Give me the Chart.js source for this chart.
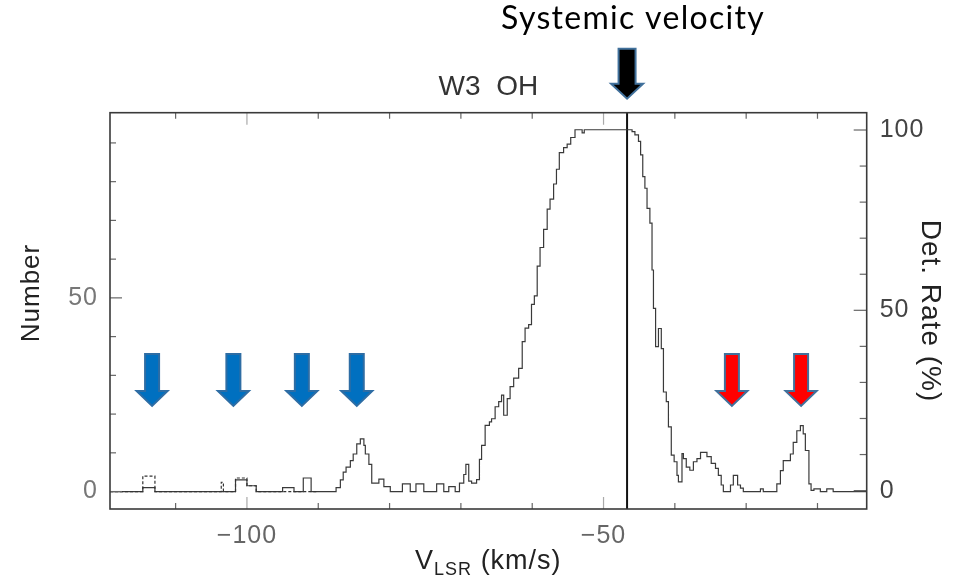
<!DOCTYPE html>
<html>
<head>
<meta charset="utf-8">
<script src="https://cdn.jsdelivr.net/npm/chart.js@4.4.1/dist/chart.umd.min.js"></script>
<style>
  html, body { margin: 0; padding: 0; background: #fff; }
  #wrap { width: 953px; height: 579px; }
</style>
</head>
<body>
<div id="wrap"><canvas id="c" width="953" height="579"></canvas></div>
<script>
// step histogram: left edge of each bin (km/s) and its height
const velEdges = [
  -119.2, -114.6, -112.9, -101.6, -100.0, -98.7, -95.0, -93.4, -92.1, -91.0,
  -87.5, -86.9, -86.5, -86.1, -85.5, -85.1, -84.6, -84.1, -83.6, -83.4,
  -82.9, -82.5, -81.5, -80.8, -79.9, -78.2, -77.1, -76.3, -75.2, -73.4,
  -72.4, -71.7, -70.8, -70.2, -69.6, -69.3, -68.9, -68.5, -67.8, -67.4,
  -67.1, -66.6, -66.0, -65.7, -65.2, -64.7, -64.3, -64.0, -63.5, -63.1,
  -62.6, -61.9, -61.4, -61.0, -60.5, -60.1, -59.7, -59.3, -58.9, -58.4,
  -57.9, -57.5, -57.0, -56.6, -56.2, -55.6, -55.1, -54.6, -54.0, -53.0,
  -52.7, -46.0, -45.6, -45.1, -44.8, -44.5, -44.2, -43.9, -43.5, -43.2,
  -43.0, -42.7, -42.3, -41.9, -41.6, -41.2, -40.9, -40.5, -40.1, -39.7,
  -39.5, -39.0, -38.8, -38.4, -37.9, -37.4, -36.9, -36.4, -35.5, -34.9,
  -34.3, -33.9, -33.5, -33.2, -32.2, -31.8, -31.2, -30.8, -30.4, -28.0,
  -27.6, -25.7, -25.2, -24.8, -23.8, -23.4, -22.9, -22.4, -22.0, -21.7,
  -21.2, -20.9, -20.5, -19.6, -18.7, -17.8, -13.1
];
const counts = [
  0, 1, 0, 3, 1.5, 0, 1, 0, 3.5, 0,
  1, 3, 5, 6.3, 8, 9.7, 12.3, 13.6, 11.9, 9.7,
  7, 2.2, 3.2, 1.3, 0, 2, 0, 2, 0, 2,
  0, 1.3, 0, 2.2, 4.4, 7.0, 2.7, 2.2, 3.1, 8.3,
  11.9, 17.1, 18.0, 18.8, 21.9, 23.2, 24.9, 19.7, 24.0, 27.1,
  29.3, 31.8, 38.7, 42.2, 43.1, 48.3, 50.5, 58.2, 63.0, 67.7,
  72.9, 75.5, 79.4, 83.2, 87.5, 88.8, 89.7, 91.4, 93.4, 92.6,
  93.4, 92.9, 92.1, 90.4, 86.9, 81.3, 78.3, 73.1, 69.3, 57.2,
  47.3, 37.4, 42.1, 36.9, 25.7, 23.2, 16.7, 9.4, 7.7, 4.2,
  2.5, 9.8, 8.5, 6.3, 5.5, 7.7, 8.5, 10.1, 9.0, 7.3,
  6.0, 4.2, 1.7, 0, 1.7, 4.2, 1.7, 0.9, 0, 0.7,
  0, 2, 5.4, 8, 9.7, 12.7, 15.7, 17, 14.9, 10.6,
  2, 0.3, 0.7, 0, 0.7, 0, 0
];

// dashed overlay on the faint high-velocity bumps
const dashEdges = [-119.2, -114.6, -112.9, -103.6, -103.3, -101.6, -100.0, -98.7, -90.0];
const dashCounts = [0, 4, 0, 2.4, 0, 3.5, 1.5, 0, 0];

const systemicVel = -46.7;
const blueArrowVel = [-113.3, -101.9, -92.3, -84.6];
const redArrowVel = [-32.0, -22.3];

const xRange = [-119.2, -13.1];
const numberRange = [-4.5, 97.8];
const rateRange = [-5.1, 104.8];

const axisFont = 'Liberation Sans, Arial, sans-serif';

function toPoints(xs, ys) {
  return xs.map((v, i) => ({ x: v, y: ys[i] }));
}

function drawArrow(ctx, cx, top, tip, shaftW, headW, headH, fill, stroke) {
  const neck = tip - headH;
  ctx.beginPath();
  ctx.moveTo(cx - shaftW / 2, top);
  ctx.lineTo(cx + shaftW / 2, top);
  ctx.lineTo(cx + shaftW / 2, neck);
  ctx.lineTo(cx + headW / 2, neck);
  ctx.lineTo(cx, tip);
  ctx.lineTo(cx - headW / 2, neck);
  ctx.lineTo(cx - shaftW / 2, neck);
  ctx.closePath();
  ctx.fillStyle = fill;
  ctx.fill();
  ctx.lineWidth = 2;
  ctx.strokeStyle = stroke;
  ctx.stroke();
}

function rotatedText(ctx, text, cx, cy, angle) {
  ctx.save();
  ctx.translate(cx, cy);
  ctx.rotate(angle);
  ctx.textAlign = 'center';
  ctx.textBaseline = 'middle';
  ctx.fillText(text, 0, 0);
  ctx.restore();
}

const decorations = {
  id: 'decorations',
  beforeDraw(chart) {
    // the plot's lettering is a bit wider than Helvetica
    chart.ctx.letterSpacing = '1px';
  },
  afterDraw(chart) {
    const { ctx, chartArea: a, scales } = chart;
    const x = scales.x, yl = scales.y, yr = scales.y1;
    ctx.save();

    // inward tick marks
    ctx.lineWidth = 1.2;
    x.ticks.forEach(t => {
      const px = x.getPixelForValue(t.value);
      const major = t.value % 50 === 0;
      const len = major ? 12 : 6;
      ctx.strokeStyle = major ? '#aaa' : '#666';
      ctx.beginPath();
      ctx.moveTo(px, a.bottom); ctx.lineTo(px, a.bottom - len);
      ctx.moveTo(px, a.top); ctx.lineTo(px, a.top + len);
      ctx.stroke();
    });
    ctx.strokeStyle = '#666';
    yl.ticks.forEach(t => {
      const py = yl.getPixelForValue(t.value);
      const len = t.value % 50 === 0 ? 12 : 6;
      ctx.beginPath();
      ctx.moveTo(a.left, py); ctx.lineTo(a.left + len, py);
      ctx.stroke();
    });
    yr.ticks.forEach(t => {
      const py = yr.getPixelForValue(t.value);
      const len = t.value % 50 === 0 ? 13 : 7;
      ctx.beginPath();
      ctx.moveTo(a.right, py); ctx.lineTo(a.right - len, py);
      ctx.stroke();
    });

    // frame
    ctx.strokeStyle = '#3a3a3a';
    ctx.lineWidth = 1.6;
    ctx.strokeRect(a.left, a.top, a.right - a.left, a.bottom - a.top);

    // axis titles
    ctx.letterSpacing = '1px';
    ctx.fillStyle = '#222';
    ctx.font = '26px ' + axisFont;
    rotatedText(ctx, 'Number', 32, 293, -Math.PI / 2);
    ctx.font = '28px ' + axisFont;
    rotatedText(ctx, 'Det. Rate (%)', 930, 311, Math.PI / 2);

    // x axis title with subscript
    ctx.textBaseline = 'alphabetic';
    ctx.textAlign = 'left';
    const big = '27px ' + axisFont, small = '18px ' + axisFont;
    ctx.font = big;
    const wV = ctx.measureText('V').width;
    const wRest = ctx.measureText(' (km/s)').width;
    ctx.font = small;
    const wSub = ctx.measureText('LSR').width;
    let tx = (a.left + a.right) / 2 - (wV + wSub + wRest) / 2;
    const base = 569;
    ctx.font = big;
    ctx.fillText('V', tx, base);
    tx += wV;
    ctx.font = small;
    ctx.fillText('LSR', tx, base + 6);
    tx += wSub;
    ctx.font = big;
    ctx.fillText(' (km/s)', tx, base);

    // plot title
    ctx.letterSpacing = '0px';
    ctx.fillStyle = '#333';
    ctx.font = '28px ' + axisFont;
    ctx.textAlign = 'center';
    ctx.fillText('W3  OH', (a.left + a.right) / 2, 95);

    // annotation arrows
    const top = yl.getPixelForValue(35.5), tip = yl.getPixelForValue(22.1);
    blueArrowVel.forEach(v => drawArrow(ctx, x.getPixelForValue(v), top, tip, 14, 31, 15, '#0070c0', '#2e6da4'));
    redArrowVel.forEach(v => drawArrow(ctx, x.getPixelForValue(v), top, tip, 14, 31, 15, '#ff0000', '#41719c'));
    const sx = x.getPixelForValue(systemicVel);
    drawArrow(ctx, sx, a.top - 64, a.top - 14, 17, 32, 15, '#000', '#41719c');

    ctx.fillStyle = '#000';
    ctx.letterSpacing = '1.3px';
    ctx.font = '32px Lato, "Open Sans", sans-serif';
    ctx.fillText('Systemic velocity', sx + 6, 29);

    ctx.restore();
  }
};

new Chart(document.getElementById('c'), {
  type: 'line',
  data: {
    datasets: [
      {
        label: 'dashed',
        data: toPoints(dashEdges, dashCounts),
        stepped: 'before',
        borderColor: '#333',
        borderWidth: 1.2,
        borderDash: [3, 2],
        pointRadius: 0,
        yAxisID: 'y'
      },
      {
        label: 'detections',
        data: toPoints(velEdges, counts),
        stepped: 'before',
        borderColor: '#3a3a3a',
        borderWidth: 1.2,
        pointRadius: 0,
        yAxisID: 'y'
      },
      {
        label: 'systemic',
        data: [{ x: systemicVel, y: numberRange[0] }, { x: systemicVel, y: numberRange[1] }],
        borderColor: '#111',
        borderWidth: 2,
        pointRadius: 0,
        yAxisID: 'y'
      }
    ]
  },
  options: {
    responsive: false,
    devicePixelRatio: 1,
    animation: false,
    layout: { padding: { top: 112.7, left: 0, right: 0, bottom: 0 } },
    plugins: { legend: { display: false }, tooltip: { enabled: false } },
    scales: {
      x: {
        type: 'linear',
        min: xRange[0],
        max: xRange[1],
        grid: { display: false, drawTicks: false },
        border: { display: false },
        ticks: {
          stepSize: 10,
          includeBounds: false,
          autoSkip: false,
          maxRotation: 0,
          padding: 12,
          color: '#666',
          font: { family: axisFont, size: 25 },
          callback: v => (v % 50 === 0 ? '\u2212' + Math.abs(v) : '')
        },
        afterFit: s => { s.height = 70; }
      },
      y: {
        type: 'linear',
        position: 'left',
        min: numberRange[0],
        max: numberRange[1],
        grid: { display: false, drawTicks: false },
        border: { display: false },
        ticks: {
          stepSize: 10,
          includeBounds: false,
          autoSkip: false,
          padding: 12,
          color: '#777',
          font: { family: axisFont, size: 25 },
          callback: v => (v % 50 === 0 ? String(v) : '')
        },
        afterFit: s => { s.width = 110; }
      },
      y1: {
        type: 'linear',
        position: 'right',
        min: rateRange[0],
        max: rateRange[1],
        grid: { display: false, drawTicks: false },
        border: { display: false },
        ticks: {
          stepSize: 10,
          includeBounds: false,
          autoSkip: false,
          padding: 13,
          color: '#444',
          font: { family: axisFont, size: 25 },
          callback: v => (v % 50 === 0 ? String(v) : '')
        },
        afterFit: s => { s.width = 953 - 866.7; }
      }
    }
  },
  plugins: [decorations]
});
</script>
</body>
</html>
